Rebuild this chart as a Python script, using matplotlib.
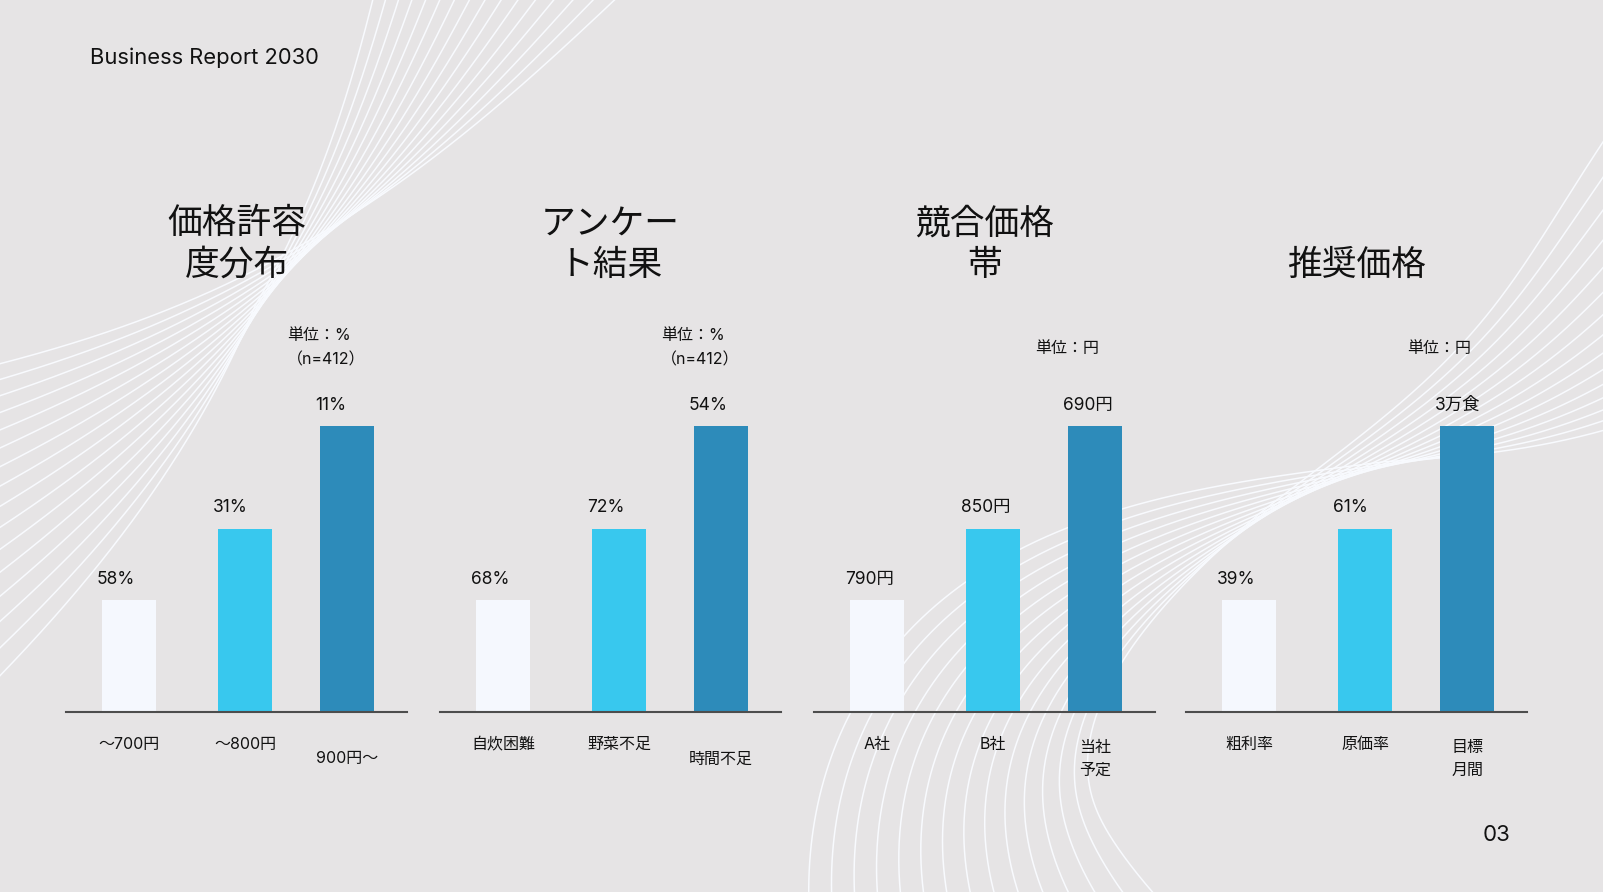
import numpy as np
import matplotlib
matplotlib.use("Agg")
import matplotlib.pyplot as plt

plt.rcParams['font.family'] = ['Inter', 'Noto Sans CJK JP', 'DejaVu Sans']

# ---- data ----
titles = ["価格許容\n度分布", "アンケー\nト結果", "競合価格\n帯", "推奨価格"]
units = ["単位：%\n（n=412）", "単位：%\n（n=412）", "単位：円", "単位：円"]
categories = [
    ["～700円", "～800円", "900円～"],
    ["自炊困難", "野菜不足", "時間不足"],
    ["A社", "B社", "当社\n予定"],
    ["粗利率", "原価率", "目標\n月間"],
]
value_labels = [
    ["58%", "31%", "11%"],
    ["68%", "72%", "54%"],
    ["790円", "850円", "690円"],
    ["39%", "61%", "3万食"],
]
bar_heights = [39, 64, 100]  # display height of the bars (same in every panel)

# ---- layout / style ----
W, H = 1603, 892
BG = "#E6E4E5"
bar_colors = ["#F5F8FE", "#38C8EE", "#2D8BBA"]
TXT = "#111111"
panel_left = [66, 440, 814, 1186]
panel_w = 341
base_y = 712
top_y = 426
slots = [0.0, 1.0, 1.88]
bar_w = 0.466
label_drop = [32, 32, 47]


def fx(px):
    return px / W


def fy(py):
    return 1 - py / H


def bez(ctrl, t):
    p = np.array(ctrl, float)[:, None, :] * np.ones((1, len(t), 1))
    while len(p) > 1:
        p = (1 - t)[None, :, None] * p[:-1] + t[None, :, None] * p[1:]
    return p[0]


def ribbon(ax, ctrl, n, spread0, spread1, pinch):
    t = np.linspace(0, 1, 500)
    c = bez(ctrl, t)
    d = np.gradient(c, axis=0)
    d /= np.linalg.norm(d, axis=1)[:, None]
    nrm = np.stack([-d[:, 1], d[:, 0]], axis=1)
    for i in range(n):
        f = i / (n - 1) - 0.5
        tp = pinch + 0.12 * f
        s = np.where(t < tp, spread0 * (t - tp) / tp, spread1 * (t - tp) / (1 - tp))
        off = 2 * f * s
        pts = c + nrm * off[:, None]
        ax.plot(pts[:, 0], pts[:, 1], color="#F8FAFE", lw=1.1)


fig = plt.figure(figsize=(W / 100, H / 100), dpi=100)
fig.patch.set_facecolor(BG)

bg = fig.add_axes([0, 0, 1, 1])
bg.set_xlim(0, W)
bg.set_ylim(H, 0)
bg.axis("off")

# decorative wave bundles
ribbon(bg, [(-80, 540), (150, 420), (320, 290), (420, 110), (520, -80)], 16, 160, 130, 0.5)
ribbon(bg, [(1000, 980), (870, 700), (1050, 540), (1300, 495), (1480, 460), (1560, 380), (1720, 230)],
       15, 180, 150, 0.55)

bg.text(90, 58, "Business Report 2030", fontsize=15.8, color=TXT, ha="left", va="center")
bg.text(1511, 835, "03", fontsize=16, color=TXT, ha="right", va="center")

for k in range(4):
    L = panel_left[k]
    ax = fig.add_axes([fx(L), fy(base_y), panel_w / W, (base_y - top_y) / H])
    ax.set_facecolor("none")
    ax.set_xlim(-0.543, -0.543 + panel_w / 116)
    ax.set_ylim(0, 100)
    for sp in ["top", "left", "right"]:
        ax.spines[sp].set_visible(False)
    ax.spines["bottom"].set_color("#4D4D4D")
    ax.spines["bottom"].set_linewidth(1.5)
    ax.set_xticks([])
    ax.set_yticks([])

    ax.bar(slots, bar_heights, width=bar_w, color=bar_colors, zorder=2)

    for j in range(3):
        ax.annotate(value_labels[k][j], xy=(slots[j] - bar_w / 2, bar_heights[j]),
                    xytext=(-3.6, 15.1), textcoords="offset points",
                    ha="left", va="center", fontsize=12.5, color=TXT)
        ax.annotate(categories[k][j], xy=(slots[j], 0),
                    xytext=(0, -label_drop[j] * 0.72), textcoords="offset points",
                    ha="center", va="center", fontsize=11.5, color=TXT,
                    linespacing=1.6)

    cx = L + panel_w / 2
    bg.text(cx, 282, titles[k], fontsize=25, color=TXT, ha="center", va="bottom",
            linespacing=1.36)
    bg.text(L + 221, 348, units[k], fontsize=11.5, color=TXT, ha="left", va="center",
            linespacing=1.75)

fig.savefig("out.png", dpi=100, facecolor=BG)
